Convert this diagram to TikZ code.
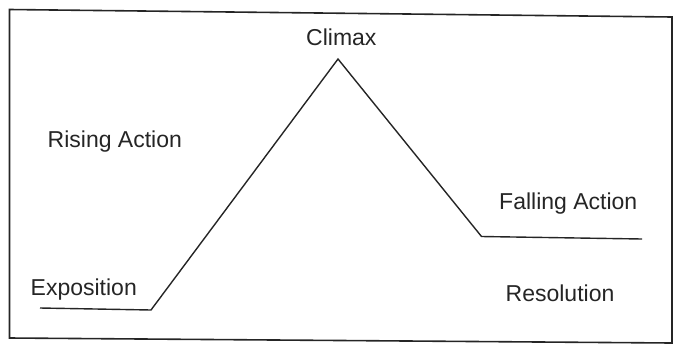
\documentclass[tikz,border=0pt]{standalone}
\usepackage{fontspec}
\setmainfont{Liberation Sans}
\definecolor{ink}{HTML}{252525}
\begin{document}
\begin{tikzpicture}[x=1pt,y=-1pt,
  lbl/.style={anchor=base west,inner sep=0pt,text=ink,font=\fontsize{23}{27}\selectfont},
  frameline/.style={draw=ink,line width=1.6pt},
  plotline/.style={draw=ink,line width=1.4pt,line join=miter}]
\useasboundingbox (0,0) rectangle (677,346);
% frame (slightly skewed like the scan)
\coordinate (tl) at (9.5,9.5);
\coordinate (tr) at (672,17);
\coordinate (br) at (672,343);
\coordinate (bl) at (9.5,338);
\draw[frameline] (tl) -- (tr) -- (br) -- (bl) -- cycle;
% plot line
\coordinate (expA) at (40,308);
\coordinate (expB) at (151,310);
\coordinate (peak) at (338,59);
\coordinate (fallB) at (481.5,236.5);
\coordinate (resB) at (642,239);
\draw[plotline] (expA) -- (expB) -- (peak) -- (fallB) -- (resB);
% labels
\node[lbl] (climax) at (306,45.5) {Climax};
\node[lbl] (rising) at (47.5,147.5) {Rising Action};
\node[lbl] (falling) at (499,209.5) {Falling Action};
\node[lbl] (expo) at (30.5,295) {Exposition};
\node[lbl] (reso) at (505.5,301.5) {Resolution};
\end{tikzpicture}
\end{document}
